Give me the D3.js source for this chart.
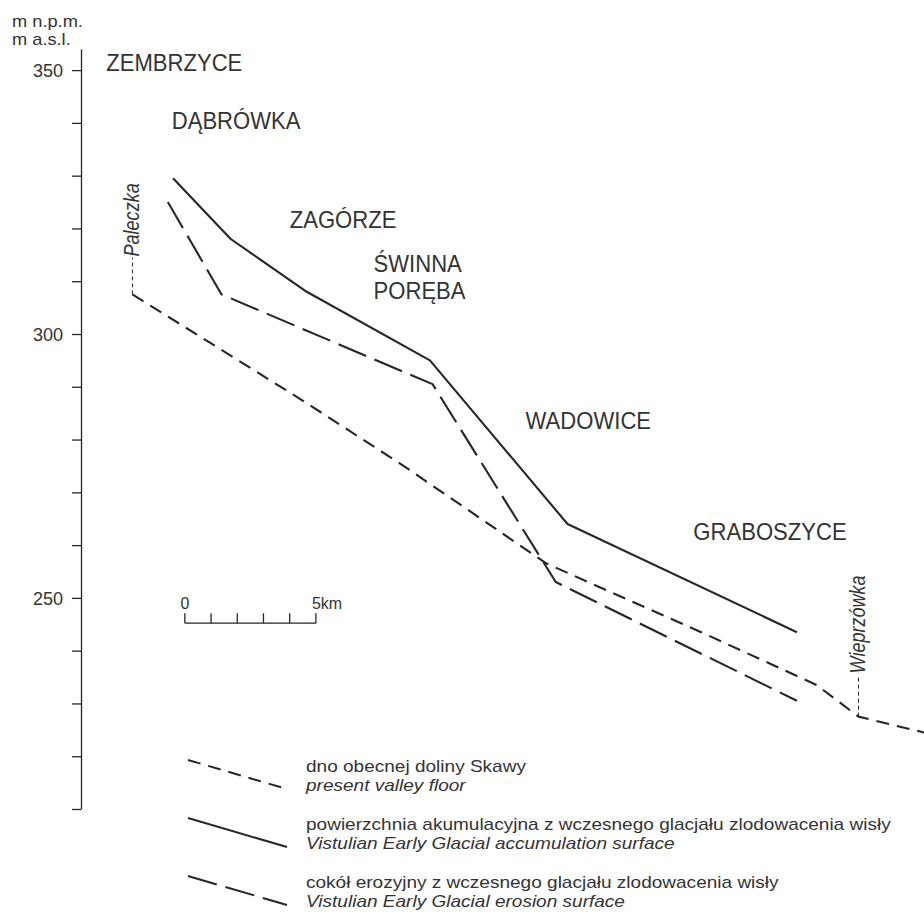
<!DOCTYPE html>
<html>
<head>
<meta charset="utf-8">
<script src="https://cdn.jsdelivr.net/npm/d3@7"></script>
<style>
  body { margin: 0; background: #fff; }
  svg { display: block; }
  text { font-family: "Liberation Sans", Arial, sans-serif; fill: #333; }
</style>
</head>
<body>
<svg id="chart" width="924" height="912"></svg>
<script>
// elevation axis, m a.s.l.
const elevTicks = [210, 220, 230, 240, 250, 260, 270, 280, 290, 300, 310, 320, 330, 340, 350];
const elevTickLabels = [250, 300, 350];

// long profile: km along the valley vs. elevation
const floorKm   = [2.0, 8.3, 12.2, 17.8, 23.7, 28.1, 29.7, 32.2];
const floorElev = [307.5, 288, 275.5, 256.5, 243.5, 233.5, 227.5, 224.5];

const accumKm   = [3.55, 5.75, 8.65, 13.35, 18.6, 27.35];
const accumElev = [329.5, 318, 308, 295, 264, 243.5];

const erosionKm   = [3.35, 5.4, 13.45, 18.15, 27.35];
const erosionElev = [325, 307.5, 290.5, 253, 230.5];

// place names (anchored at km / elevation)
const places    = ["ZEMBRZYCE", "DĄBRÓWKA", "ZAGÓRZE", "ŚWINNA", "PORĘBA", "WADOWICE", "GRABOSZYCE"];
const placeKm   = [1.0, 3.5, 8.0, 11.2, 11.2, 17.0, 23.4];
const placeElev = [349.8, 338.8, 320.1, 311.7, 306.6, 282, 261];

// tributaries
const rivers    = ["Paleczka", "Wieprzówka"];
const riverKm   = [2.0, 29.7];
const riverBase = [307.5, 227.5];
const riverTop  = [314.5, 235.5];

// scale bar
const scaleBarKm = [4, 5, 6, 7, 8, 9];
const scaleBarElev = 245.2;

// legend
const legendPl = ["dno obecnej doliny Skawy",
                  "powierzchnia akumulacyjna z wczesnego glacjału zlodowacenia wisły",
                  "cokół erozyjny z wczesnego glacjału zlodowacenia wisły"];
const legendEn = ["present valley floor",
                  "Vistulian Early Glacial accumulation surface",
                  "Vistulian Early Glacial erosion surface"];

const svg = d3.select("#chart");
const ink = "#262626";
const shortDash = "13,8";
const longDash = "30,9";

const x = d3.scaleLinear().domain([0, 32.2]).range([80, 924]);
const y = d3.scaleLinear().domain([210, 354]).range([809, 49]);

// stretch text horizontally around its anchor
function place(sel, px, py, k, rot) {
  sel.attr("transform", `translate(${px},${py})` + (rot ? ` rotate(${rot})` : "") + ` scale(${k},1)`);
}

// y axis
let axis = d3.axisLeft(y)
  .tickValues(elevTicks)
  .tickSize(9)
  .tickSizeOuter(0)
  .tickPadding(9)
  .tickFormat(d => elevTickLabels.includes(d) ? d : "");

let gAxis = svg.append("g")
  .attr("transform", `translate(${x(0) + 1},0)`)
  .attr("font-size", 18)
  .call(axis);
gAxis.select(".domain").attr("stroke", ink).attr("stroke-width", 1.3);
gAxis.selectAll(".tick line").attr("stroke", ink).attr("stroke-width", 1.3);
gAxis.selectAll(".tick text")
  .attr("dy", "0.36em")
  .style("font-family", '"Liberation Sans", Arial, sans-serif')
  .style("font-size", "18px")
  .attr("fill", "#333");

svg.append("text").text("m n.p.m.").style("font-size", "16px").call(place, 12, 27, 1.14);
svg.append("text").text("m a.s.l.").style("font-size", "16px").call(place, 12, 45, 1.14);

// profiles
let line = d3.line()
  .x(d => x(d[0]))
  .y(d => y(d[1]));

let profiles = [
  { pts: d3.zip(floorKm, floorElev), dash: shortDash },
  { pts: d3.zip(accumKm, accumElev), dash: null },
  { pts: d3.zip(erosionKm, erosionElev), dash: longDash }
];

svg.append("g").selectAll("path")
  .data(profiles)
  .enter()
  .append("path")
  .attr("d", d => line(d.pts))
  .attr("fill", "none")
  .attr("stroke", ink)
  .attr("stroke-width", 2.1)
  .attr("stroke-dasharray", d => d.dash)
  .attr("stroke-linejoin", "round")
;

// tributary markers
rivers.forEach((name, i) => {
  svg.append("line")
    .attr("x1", x(riverKm[i])).attr("x2", x(riverKm[i]))
    .attr("y1", y(riverBase[i])).attr("y2", y(riverTop[i]))
    .attr("stroke", ink)
    .attr("stroke-width", 1)
    .attr("stroke-dasharray", "4,3");
  svg.append("text")
    .text(name)
    .style("font-size", "22px")
    .style("font-style", "italic")
    .call(place, x(riverKm[i]) + 7, y(riverTop[i]) - 1, 0.82, -90);
});

// place names
places.forEach((name, i) => {
  svg.append("text")
    .text(name)
    .style("font-size", "24px")
    .call(place, x(placeKm[i]), y(placeElev[i]), 0.92);
});

// scale bar
let sb = svg.append("g");
sb.append("line")
  .attr("x1", x(scaleBarKm[0])).attr("x2", x(scaleBarKm[scaleBarKm.length - 1]))
  .attr("y1", y(scaleBarElev)).attr("y2", y(scaleBarElev))
  .attr("stroke", ink).attr("stroke-width", 1.3);
sb.selectAll(".sbtick")
  .data(scaleBarKm)
  .enter()
  .append("line")
  .attr("x1", d => x(d)).attr("x2", d => x(d))
  .attr("y1", y(scaleBarElev)).attr("y2", y(scaleBarElev) - 10)
  .attr("stroke", ink).attr("stroke-width", 1.3);
sb.append("text").text("0")
  .attr("x", x(scaleBarKm[0])).attr("y", y(scaleBarElev) - 14)
  .attr("text-anchor", "middle")
  .style("font-size", "16px");
sb.append("text").text("5km")
  .attr("x", x(scaleBarKm[scaleBarKm.length - 1]) - 4).attr("y", y(scaleBarElev) - 14)
  .style("font-size", "16px");

// legend
let legendDash = [shortDash, null, longDash];
let legendTop = [760, 818, 876];

let lg = svg.append("g");
legendPl.forEach((label, i) => {
  let t = legendTop[i];
  lg.append("line")
    .attr("x1", 188).attr("y1", t)
    .attr("x2", 287).attr("y2", t + 29)
    .attr("stroke", ink)
    .attr("stroke-width", 2)
    .attr("stroke-dasharray", legendDash[i]);
  lg.append("text").text(label)
    .style("font-size", "17px")
    .call(place, 306, t + 12, 1.12);
  lg.append("text").text(legendEn[i])
    .style("font-size", "17px")
    .style("font-style", "italic")
    .call(place, 306, t + 31, 1.12);
});
</script>
</body>
</html>
